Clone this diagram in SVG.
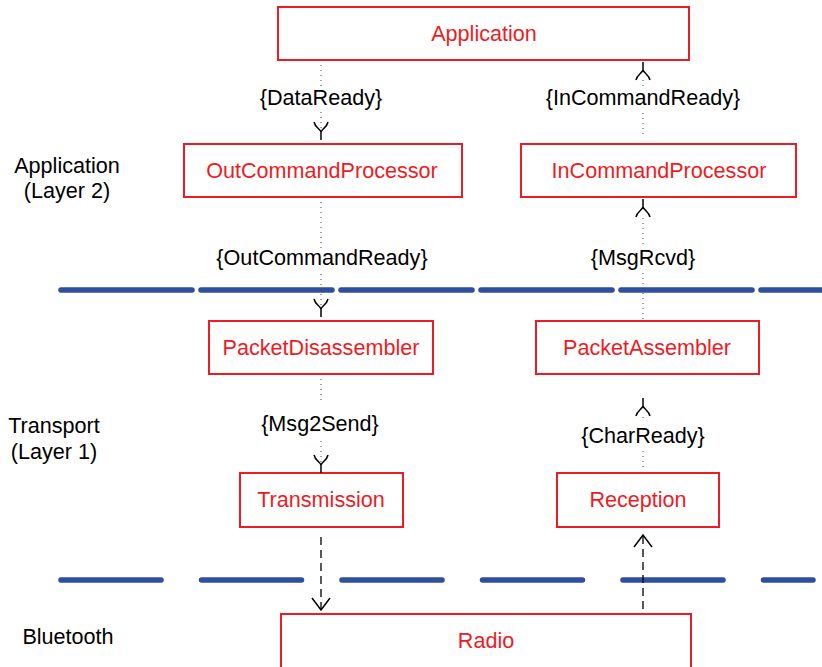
<svg xmlns="http://www.w3.org/2000/svg" xmlns:xlink="http://www.w3.org/1999/xlink" width="822" height="667" viewBox="0 0 822 667">
<style>
.box{fill:#fff;stroke:#ed1c24;stroke-width:2}
.nt{font-family:"Liberation Sans",Arial,sans-serif;font-size:21.6px;fill:#ed1c24;text-anchor:middle}
.lb{font-family:"Liberation Sans",Arial,sans-serif;font-size:21.6px;fill:#000;text-anchor:middle}
.dot{stroke:#444;stroke-width:1;stroke-dasharray:1 4;fill:none}
.dash{stroke:#000;stroke-width:1.3;stroke-dasharray:8 5;fill:none}
.head{stroke:#000;stroke-width:1.5;fill:none}
.layer{stroke:#2e4fa0;stroke-width:5.5;stroke-linecap:round;fill:none}
</style>
<defs>
<path id="yh" class="head" d="M0 0 V-8 M0 -8 C -1 -11 -6 -13 -7 -18 M0 -8 C 1 -11 6 -13 7 -18"/>
<path id="vh" class="head" d="M-9 -12 L0 0 L9 -12"/>
</defs>
<g id="layers">
<line class="layer" x1="61" y1="290" x2="825" y2="290" stroke-dasharray="131 9"/>
<line class="layer" x1="61" y1="580" x2="813" y2="580" stroke-dasharray="100 40.5"/>
</g>
<g id="side-labels">
<text class="lb" x="67" y="173">Application</text>
<text class="lb" x="67" y="198">(Layer 2)</text>
<text class="lb" x="54" y="433">Transport</text>
<text class="lb" x="54" y="459">(Layer 1)</text>
<text class="lb" x="68" y="644">Bluetooth</text>
</g>
<g id="n-application"><rect class="box" x="278" y="7" width="411" height="53"/><text class="nt" x="484" y="41">Application</text></g>
<g id="n-outcmd"><rect class="box" x="184" y="144" width="278" height="53"/><text class="nt" x="322" y="178">OutCommandProcessor</text></g>
<g id="n-incmd"><rect class="box" x="521" y="144" width="275" height="53"/><text class="nt" x="659" y="178">InCommandProcessor</text></g>
<g id="n-pdis"><rect class="box" x="209" y="321" width="224" height="53"/><text class="nt" x="321" y="355">PacketDisassembler</text></g>
<g id="n-pasm"><rect class="box" x="536" y="321" width="223" height="53"/><text class="nt" x="647" y="355">PacketAssembler</text></g>
<g id="n-trans"><rect class="box" x="240" y="473" width="163" height="54"/><text class="nt" x="321" y="507">Transmission</text></g>
<g id="n-recep"><rect class="box" x="557" y="473" width="162" height="54"/><text class="nt" x="638" y="507">Reception</text></g>
<g id="n-radio"><rect class="box" x="281" y="614" width="410" height="60"/><text class="nt" x="486" y="648">Radio</text></g>
<g id="connectors">
<line class="dot" x1="321" y1="65" x2="321" y2="87"/>
<text class="lb" x="321" y="105">{DataReady}</text>
<line class="dot" x1="321" y1="112" x2="321" y2="130"/>
<use xlink:href="#yh" transform="translate(321,140)"/>

<use xlink:href="#yh" transform="translate(643,62) rotate(180)"/>
<line class="dot" x1="643" y1="80" x2="643" y2="88"/>
<text class="lb" x="643" y="105">{InCommandReady}</text>
<line class="dot" x1="643" y1="113" x2="643" y2="134"/>

<line class="dot" x1="321" y1="202" x2="321" y2="248"/>
<text class="lb" x="322" y="265">{OutCommandReady}</text>
<line class="dot" x1="321" y1="274" x2="321" y2="306"/>
<use xlink:href="#yh" transform="translate(321,317)"/>

<use xlink:href="#yh" transform="translate(643,199) rotate(180)"/>
<line class="dot" x1="643" y1="218" x2="643" y2="248"/>
<text class="lb" x="643" y="265">{MsgRcvd}</text>
<line class="dot" x1="643" y1="273" x2="643" y2="319"/>

<line class="dot" x1="321" y1="379" x2="321" y2="403"/>
<text class="lb" x="320" y="431">{Msg2Send}</text>
<line class="dot" x1="321" y1="441" x2="321" y2="462"/>
<use xlink:href="#yh" transform="translate(321,473)"/>

<use xlink:href="#yh" transform="translate(643,398) rotate(180)"/>
<line class="dot" x1="643" y1="417" x2="643" y2="421"/>
<text class="lb" x="643" y="443">{CharReady}</text>
<line class="dot" x1="643" y1="451" x2="643" y2="471"/>

<line class="dash" x1="321" y1="537" x2="321" y2="610"/>
<use xlink:href="#vh" transform="translate(321,610)"/>
<line class="dash" x1="643" y1="609" x2="643" y2="536"/>
<use xlink:href="#vh" transform="translate(643,535) rotate(180)"/>
</g>
</svg>
